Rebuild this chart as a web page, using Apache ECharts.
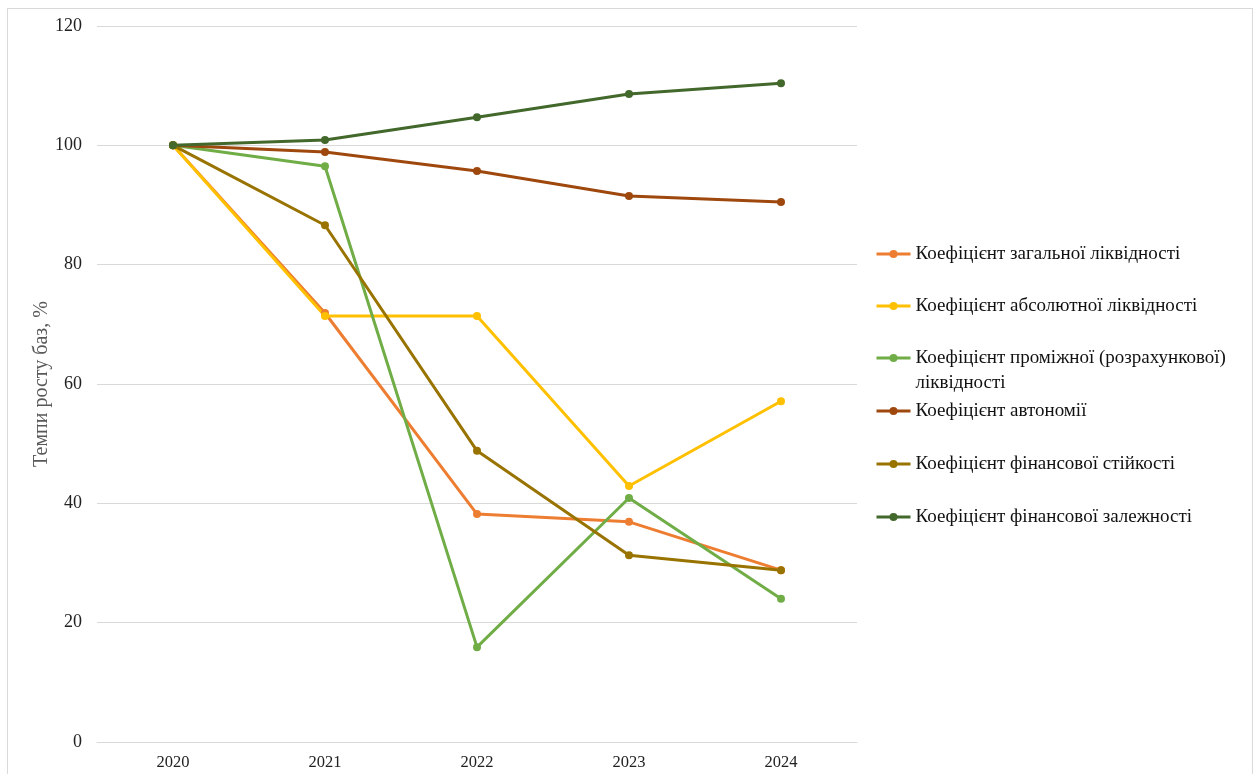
<!DOCTYPE html>
<html>
<head>
<meta charset="utf-8">
<script src="https://cdn.jsdelivr.net/npm/echarts@6/dist/echarts.min.js"></script>
<style>
  html, body { margin: 0; padding: 0; background: #fff; }
  #frame { position: absolute; left: 7px; top: 8px; width: 1244px; height: 800px; border: 1px solid #d9d9d9; }
  #chart { position: absolute; left: 0; top: 0; width: 1256px; height: 774px; }
</style>
</head>
<body>
<div id="frame"></div>
<div id="chart"></div>
<script>
      // дані
      var years = ['2020', '2021', '2022', '2023', '2024'];
      var zagalnoi = [100, 71.9, 38.2, 36.9, 28.8];
      var absolutnoi = [100, 71.4, 71.4, 42.9, 57.1];
      var promizhnoi = [100, 96.5, 15.9, 40.9, 24.0];
      var avtonomii = [100, 98.9, 95.7, 91.5, 90.5];
      var stiikosti = [100, 86.6, 48.8, 31.3, 28.8];
      var zalezhnosti = [100, 100.9, 104.7, 108.6, 110.4];

      var names = [
        'Коефіцієнт загальної ліквідності',
        'Коефіцієнт абсолютної ліквідності',
        'Коефіцієнт проміжної (розрахункової) ліквідності',
        'Коефіцієнт автономії',
        'Коефіцієнт фінансової стійкості',
        'Коефіцієнт фінансової залежності'
      ];
      var values = [zagalnoi, absolutnoi, promizhnoi, avtonomii, stiikosti, zalezhnosti];
      var colors = ['#ED7D31', '#FFC000', '#70AD47', '#9E480E', '#997300', '#43682B'];
      var legendY = [254, 306, 358, 411, 464, 517];

      var myChart = echarts.init(document.getElementById('chart'));

      var series = [];
      var legends = [];
      for (var i = 0; i < names.length; i++) {
        series.push({
          name: names[i],
          type: 'line',
          data: values[i],
          symbol: 'circle',
          symbolSize: 8,
          lineStyle: { width: 3, color: colors[i] },
          itemStyle: { color: colors[i] },
          animation: false
        });
        var lg = {
          data: [names[i]],
          orient: 'vertical',
          left: 875,
          top: legendY[i] - 12.5,
          padding: 0,
          itemWidth: 34,
          itemHeight: 10,
          lineStyle: { width: 3 },
          textStyle: { fontFamily: 'Liberation Serif', fontSize: 19, lineHeight: 25, color: '#111' }
        };
        if (i === 2) {
          // перенос рядка як в оригіналі
          lg.formatter = function () {
            return '\nКоефіцієнт проміжної (розрахункової)\nліквідності';
          };
          lg.top = legendY[i] - 37.5;
        }
        legends.push(lg);
      }

      var option = {
        backgroundColor: 'transparent',
        textStyle: { fontFamily: 'Liberation Serif' },
        grid: { left: 97, right: 399, top: 26, bottom: 32 },
        legend: legends,
        xAxis: {
          type: 'category',
          data: years,
          axisLine: { lineStyle: { color: '#d9d9d9', width: 1 } },
          axisTick: { show: false },
          axisLabel: { fontFamily: 'Liberation Serif', fontSize: 16.5, color: '#222', margin: 12 }
        },
        yAxis: {
          type: 'value',
          min: 0,
          max: 120,
          interval: 20,
          name: 'Темпи росту баз, %',
          nameLocation: 'middle',
          nameGap: 45,
          nameMoveOverlap: false,
          nameTextStyle: { fontFamily: 'Liberation Serif', fontSize: 20, color: '#595959' },
          axisLine: { show: false },
          axisTick: { show: false },
          axisLabel: { fontFamily: 'Liberation Serif', fontSize: 18, color: '#222', margin: 15 },
          splitLine: { lineStyle: { color: '#d9d9d9', width: 1 } }
        },
        series: series
      };

      myChart.setOption(option);
</script>
</body>
</html>
